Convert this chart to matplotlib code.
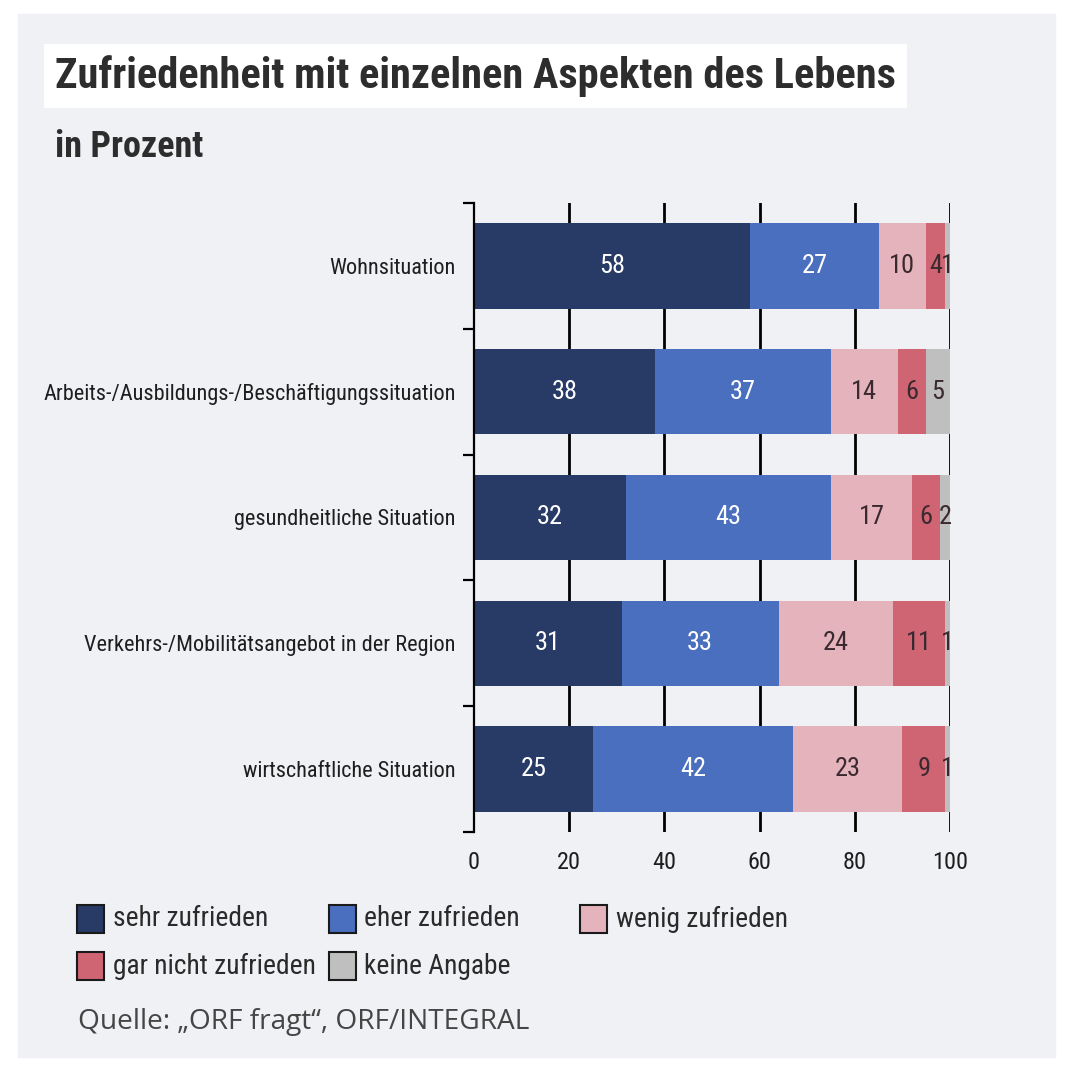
import matplotlib
matplotlib.use('Agg')
import matplotlib.pyplot as plt
from matplotlib import font_manager
from matplotlib.patches import Rectangle

# data
categories = ['Wohnsituation',
              'Arbeits-/Ausbildungs-/Beschäftigungssituation',
              'gesundheitliche Situation',
              'Verkehrs-/Mobilitätsangebot in der Region',
              'wirtschaftliche Situation']
series_names = ['sehr zufrieden', 'eher zufrieden', 'wenig zufrieden',
                'gar nicht zufrieden', 'keine Angabe']
sehr = [58, 38, 32, 31, 25]
eher = [27, 37, 43, 33, 42]
wenig = [10, 14, 17, 24, 23]
gar_nicht = [4, 6, 6, 11, 9]
keine = [1, 5, 2, 1, 1]
x_ticks = [0, 20, 40, 60, 80, 100]

colors = ['#283b66', '#4a6fbe', '#e5b3bc', '#cf6473', '#bfbfbf']
label_colors = ['white', 'white', '#3a2a30', '#3a2a30', '#3a2a30']
bg = '#f0f1f5'
dark = '#2d2d2d'

# pick a narrow font if one is there
names = {f.name for f in font_manager.fontManager.ttflist}
font = 'Roboto'
stretch = 'normal'
for cand in ['Roboto Condensed', 'Liberation Sans Narrow', 'Open Sans Condensed']:
    if cand in names:
        font = cand
        break
else:
    if any(f.name == 'DejaVu Sans' and f.stretch == 'condensed'
           for f in font_manager.fontManager.ttflist):
        font = 'DejaVu Sans'
        stretch = 'condensed'
plt.rcParams['font.family'] = [font, 'DejaVu Sans']
plt.rcParams['font.stretch'] = stretch

W, H = 1080, 1070
fig = plt.figure(figsize=(W / 100, H / 100), dpi=100)
fig.patch.set_facecolor('white')

def fx(x):
    return x / W

def fy(y):
    return 1 - y / H

# gray panel
fig.add_artist(Rectangle((fx(18), fy(1057)), (1055 - 18) / W, (1057 - 14) / H,
                         transform=fig.transFigure, color=bg, zorder=0))

ax = fig.add_axes([fx(474), fy(832), (950 - 474) / W, (832 - 203) / H])
ax.set_facecolor('none')
ax.set_xlim(0, 100)
ax.set_ylim(len(categories) - 0.5, -0.5)

for s in ['top', 'right', 'bottom']:
    ax.spines[s].set_visible(False)
ax.spines['left'].set_linewidth(1.6)
ax.spines['left'].set_color('black')

for v in x_ticks[1:]:
    ax.axvline(v, color='black', lw=2, zorder=0.5)

series = [sehr, eher, wenig, gar_nicht, keine]
rows = range(len(categories))
left = [0] * len(categories)
for vals, c, tc in zip(series, colors, label_colors):
    ax.barh(rows, vals, left=left, height=0.68, color=c, zorder=2)
    for i, v in enumerate(vals):
        ax.text(left[i] + v / 2, i, str(v), ha='center', va='center',
                color=tc, fontsize=19, zorder=3)
    left = [l + v for l, v in zip(left, vals)]

ax.set_yticks(list(rows))
ax.set_yticklabels(categories, fontsize=16, color='#1e1e1e')
ax.set_yticks([i - 0.5 for i in range(len(categories) + 1)], minor=True)
ax.tick_params(axis='y', which='major', length=0, pad=13)
ax.tick_params(axis='y', which='minor', length=8, width=1.6, color='black')

ax.set_xticks(x_ticks)
ax.set_xticklabels([str(t) for t in x_ticks], fontsize=17.5, color='#1e1e1e')
ax.tick_params(axis='x', length=0, pad=14)

# title and subtitle
fig.text(fx(55), fy(76), 'Zufriedenheit mit einzelnen Aspekten des Lebens',
         fontsize=30.5, fontweight='bold', color=dark, va='center', ha='left',
         bbox=dict(facecolor='white', edgecolor='none', pad=8))
fig.text(fx(55), fy(147), 'in Prozent', fontsize=26, fontweight='bold',
         color=dark, va='center', ha='left')

# legend, row by row
for k, name in enumerate(series_names):
    col, row = k % 3, k // 3
    x0 = 77 + col * 251.5
    yc = 919 + row * 47
    fig.add_artist(Rectangle((fx(x0), fy(yc + 14)), 27 / W, 28 / H,
                             transform=fig.transFigure, facecolor=colors[k],
                             edgecolor='#1a1a1a', lw=1.5))
    fig.text(fx(x0 + 36), fy(yc), name, fontsize=19.8, color='#2a2a2a',
             va='center', ha='left')

fig.text(fx(78), fy(1022), 'Quelle: \u201eORF fragt\u201c, ORF/INTEGRAL',
         fontsize=20.2, color='#454545', va='center', ha='left',
         family=['Open Sans', 'DejaVu Sans'], fontstretch='normal')

fig.savefig('out.png', dpi=100, facecolor='white')
